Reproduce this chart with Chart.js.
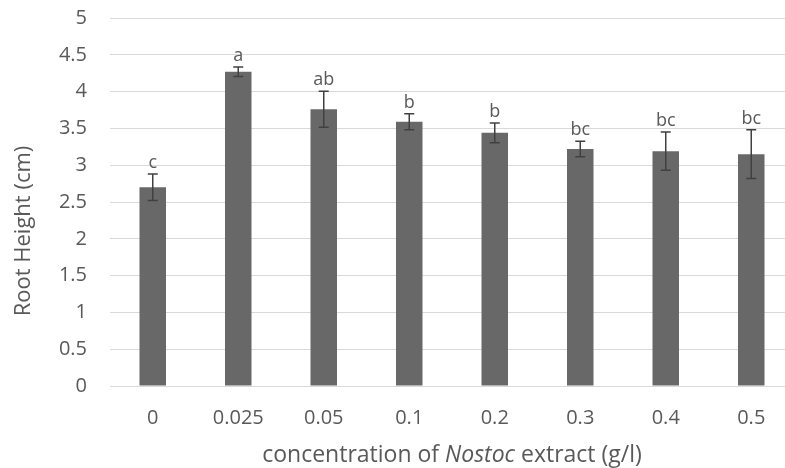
<!DOCTYPE html>
<html>
<head>
<meta charset="utf-8">
<script src="https://cdn.jsdelivr.net/npm/chart.js@4"></script>
<style>
  html, body { margin: 0; padding: 0; background: #fff; overflow: hidden; }
  #wrap { width: 794px; height: 468px; }
</style>
</head>
<body>
<div id="wrap"><canvas id="rootChart"></canvas></div>
<script>
// ── Data ──────────────────────────────────────────────
const concentrations = ['0', '0.025', '0.05', '0.1', '0.2', '0.3', '0.4', '0.5'];
const rootHeight = [2.70, 4.27, 3.76, 3.59, 3.44, 3.22, 3.19, 3.15];
const stdError = [0.18, 0.065, 0.245, 0.11, 0.135, 0.105, 0.26, 0.33];
const groupLetters = ['c', 'a', 'ab', 'b', 'b', 'bc', 'bc', 'bc'];

const FONT = 'Open Sans';
const TEXT = '#595959';

// ── Error bars + significance letters ─────────────────
const errorBarPlugin = {
  id: 'errorBars',
  afterDatasetsDraw(chart) {
    const { ctx, scales: { x, y } } = chart;
    ctx.save();
    ctx.strokeStyle = '#404040';
    ctx.lineWidth = 1.5;
    rootHeight.forEach((v, i) => {
      const cx = x.getPixelForValue(i);
      const top = y.getPixelForValue(v + stdError[i]);
      const bot = y.getPixelForValue(v - stdError[i]);
      ctx.beginPath();
      ctx.moveTo(cx, top); ctx.lineTo(cx, bot);
      ctx.moveTo(cx - 5, top); ctx.lineTo(cx + 5, top);
      ctx.moveTo(cx - 5, bot); ctx.lineTo(cx + 5, bot);
      ctx.stroke();

      ctx.fillStyle = TEXT;
      ctx.font = `18px "${FONT}"`;
      ctx.textAlign = 'center';
      ctx.textBaseline = 'alphabetic';
      ctx.fillText(groupLetters[i], cx, top - 6);
    });
    ctx.restore();
  }
};

// ── Axis titles (x title has italic genus name) ───────
const titlesPlugin = {
  id: 'axisTitles',
  afterDraw(chart) {
    const { ctx, chartArea } = chart;
    ctx.save();
    ctx.fillStyle = TEXT;
    ctx.textBaseline = 'middle';

    // x title
    const parts = [
      ['concentration of ', 'normal'],
      ['Nostoc', 'italic'],
      [' extract (g/l)', 'normal']
    ];
    ctx.textAlign = 'left';
    const widths = parts.map(([t, s]) => {
      ctx.font = `${s} 23px "${FONT}"`;
      return ctx.measureText(t).width;
    });
    const total = widths.reduce((a, b) => a + b, 0);
    let px = (chartArea.left + chartArea.right) / 2 - total / 2;
    const py = chartArea.bottom + 69;
    parts.forEach(([t, s], i) => {
      ctx.font = `${s} 23px "${FONT}"`;
      ctx.fillText(t, px, py);
      px += widths[i];
    });

    // y title
    ctx.translate(24, (chartArea.top + chartArea.bottom) / 2 + 29);
    ctx.rotate(-Math.PI / 2);
    ctx.textAlign = 'center';
    ctx.font = `22px "${FONT}"`;
    ctx.fillText('Root Height (cm)', 0, 0);
    ctx.restore();
  }
};

// ── Chart ─────────────────────────────────────────────
new Chart(document.getElementById('rootChart'), {
  type: 'bar',
  data: {
    labels: concentrations,
    datasets: [{
      data: rootHeight,
      backgroundColor: '#686868',
      barPercentage: 1,
      categoryPercentage: 0.31
    }]
  },
  options: {
    responsive: true,
    maintainAspectRatio: false,
    animation: false,
    layout: { padding: { left: 0, right: 0, top: 18, bottom: 0 } },
    plugins: {
      legend: { display: false },
      tooltip: { enabled: false }
    },
    scales: {
      x: {
        grid: { display: false },
        border: { color: '#d9d9d9' },
        ticks: { color: TEXT, font: { family: FONT, size: 20 }, padding: 12, maxRotation: 0 },
        afterFit: s => { s.height = 82; s.paddingLeft = 0; s.paddingRight = 0; }
      },
      y: {
        min: 0,
        max: 5,
        grid: { color: '#d9d9d9', drawTicks: false },
        border: { display: false },
        ticks: {
          stepSize: 0.5,
          color: TEXT,
          font: { family: FONT, size: 20 },
          padding: 23,
          callback: v => String(Number(v))
        },
        afterFit: s => { s.width = 110; s.paddingTop = 0; s.paddingBottom = 0; }
      }
    }
  },
  plugins: [errorBarPlugin, titlesPlugin]
});
</script>
</body>
</html>
